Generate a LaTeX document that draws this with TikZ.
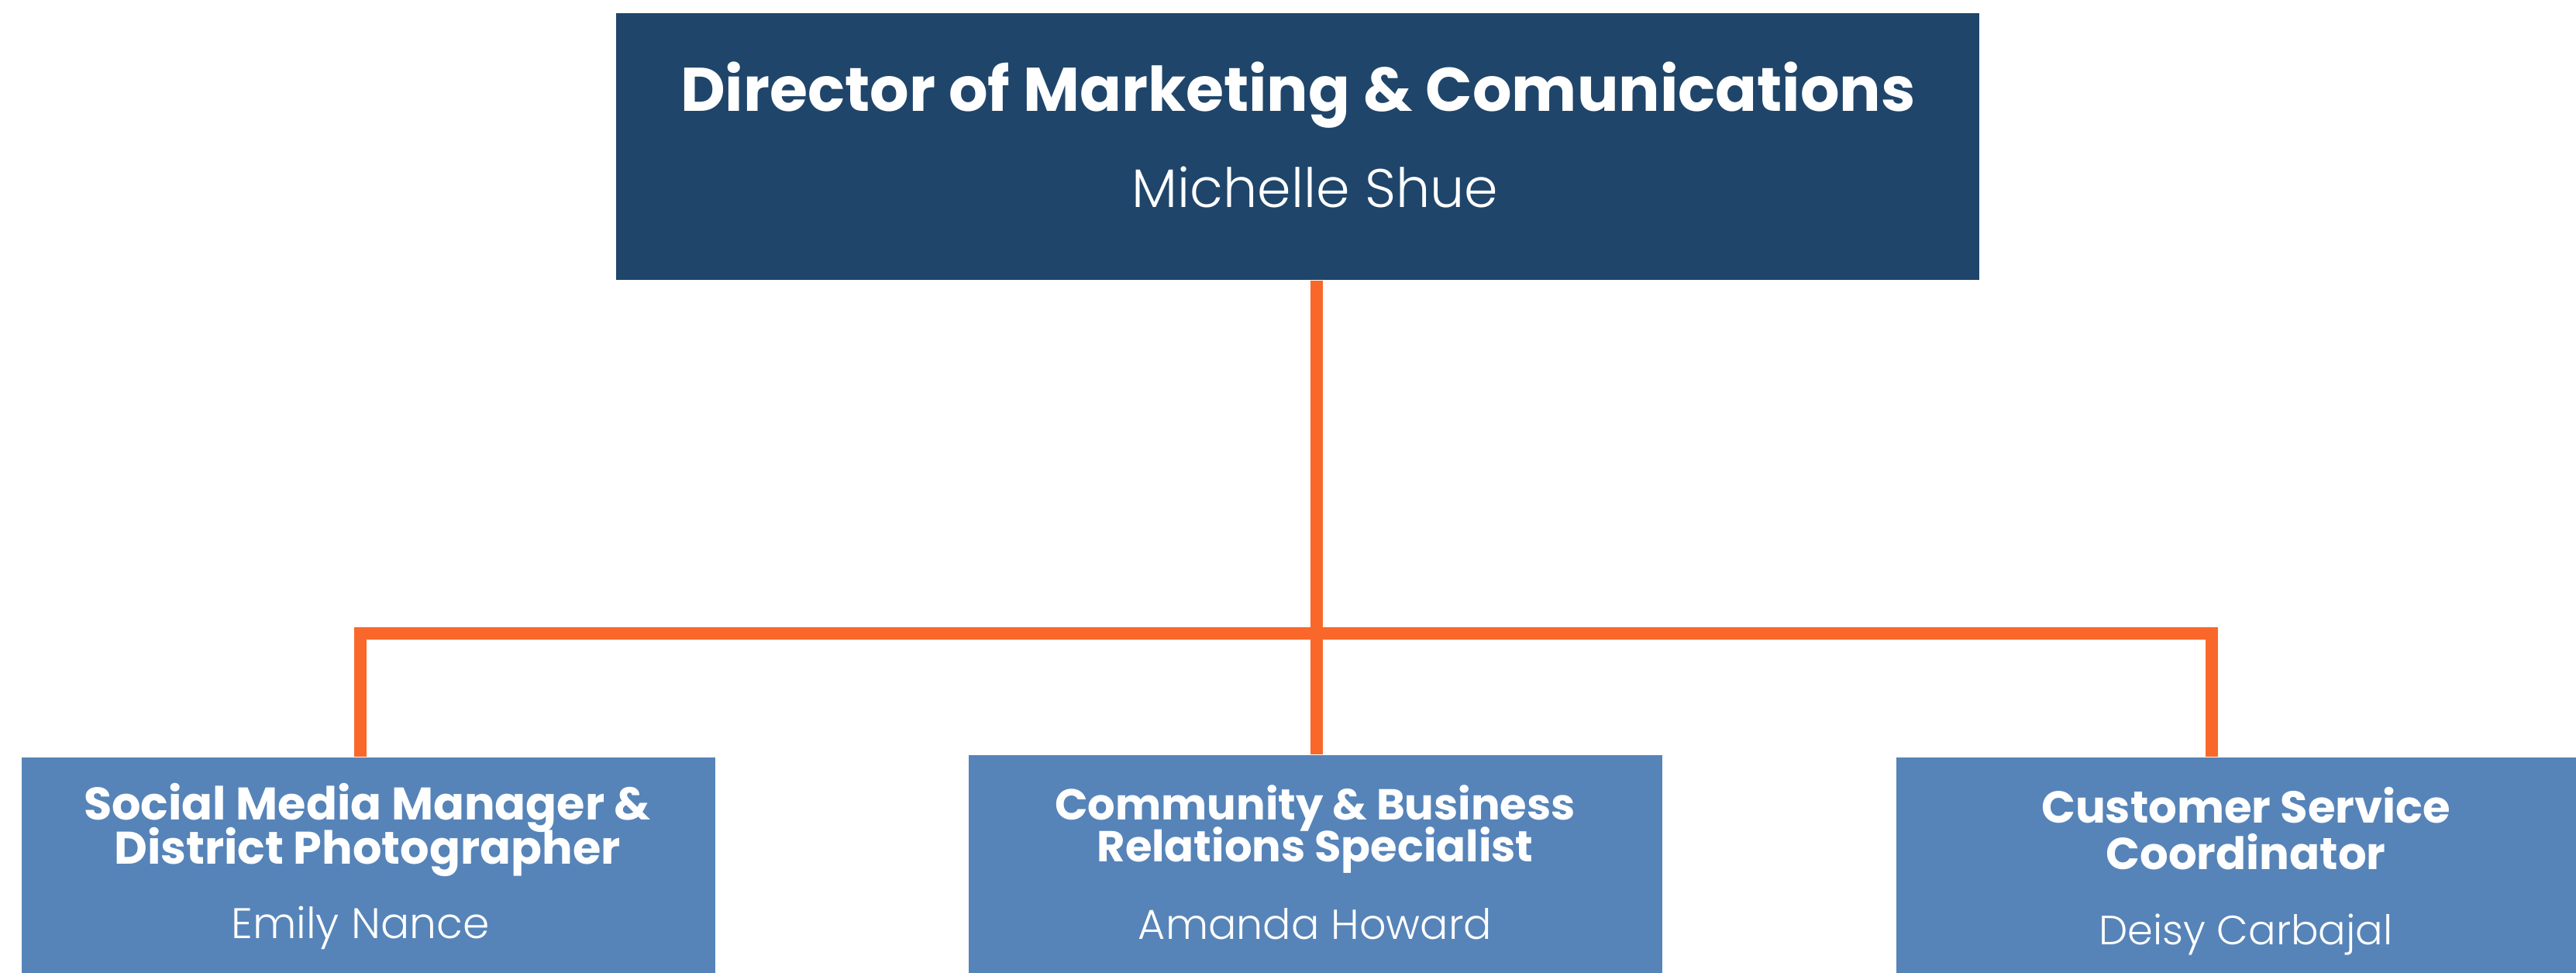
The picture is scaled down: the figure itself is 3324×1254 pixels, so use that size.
\documentclass[tikz,border=0pt]{standalone}
\usepackage{fontspec}
\setmainfont{Poppins}
\newfontfamily\lightfont{Poppins Light}
\definecolor{navy}{RGB}{31,69,106}
\definecolor{steel}{RGB}{86,132,185}
\definecolor{linkorange}{RGB}{249,104,42}
\tikzset{
  boxbase/.style={rectangle, draw=none, inner sep=0pt, anchor=north west},
  topbox/.style={boxbase, fill=navy, minimum width=17.58cm, minimum height=3.44cm},
  subbox/.style={boxbase, fill=steel, minimum width=8.95cm, minimum height=3.2cm},
  ttl/.style={text=white, anchor=base, inner sep=0pt, font={\fontsize{#1}{#1}\selectfont\bfseries}},
  nm/.style={text=white, anchor=base, inner sep=0pt, font={\fontsize{#1}{#1}\selectfont\lightfont}},
  link/.style={draw=linkorange, line width=4.53pt}
}
\begin{document}
\begin{tikzpicture}[x=0.01cm,y=-0.01cm]
\useasboundingbox (0,0) rectangle (3324,1254);
\clip (0,0) rectangle (3324,1254);
\fill[white] (0,0) rectangle (3324,1254);
% boxes
\node[topbox] (top) at (794,16) {};
\node[subbox] (left) at (27,976) {};
\node[subbox] (mid) at (1249,973) {};
\node[subbox] (right) at (2446,976) {};
% connectors
\coordinate (bus) at (1699,817);
\coordinate (bl) at (465,817);
\coordinate (br) at (2854,817);
\draw[link] (top.south -| bus) -- (mid.north -| bus);
\draw[link] (bl |- left.north) -- (bl) -- (br) -- (br |- right.north);
% texts
\node[ttl=22.6pt] (toptitle) at (1675,143) {Director of Marketing \& Comunications};
\node[nm=19.9pt] (topname) at (1697,267) {Michelle Shue};
\node[ttl=16.75pt] (lt1) at (474,1057) {Social Media Manager \&};
\node[ttl=16.75pt] (lt2) at (474,1114) {District Photographer};
\node[nm=15.7pt] (lname) at (465,1210) {Emily Nance};
\node[ttl=15.9pt] (mt1) at (1697,1057) {Community \& Business};
\node[ttl=15.9pt] (mt2) at (1697,1111) {Relations Specialist};
\node[nm=15.35pt] (mname) at (1697,1211) {Amanda Howard};
\node[ttl=16.4pt] (rt1) at (2898,1061) {Customer Service};
\node[ttl=16.4pt] (rt2) at (2898,1121) {Coordinator};
\node[nm=15pt] (rname) at (2898,1218) {Deisy Carbajal};
\end{tikzpicture}
\end{document}
